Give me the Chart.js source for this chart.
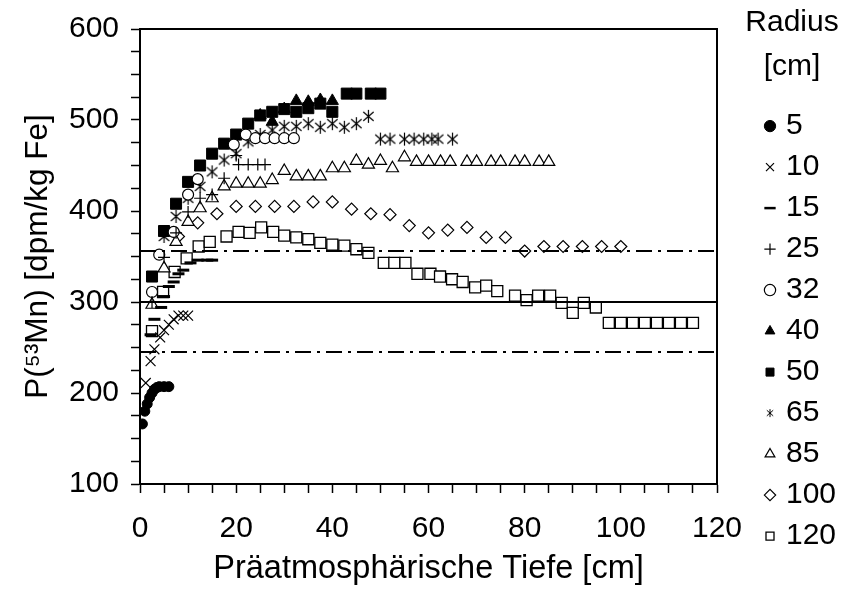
<!DOCTYPE html>
<html>
<head>
<meta charset="utf-8">
<script src="https://cdn.jsdelivr.net/npm/chart.js@4.4.0/dist/chart.umd.min.js"></script>
<style>
  html, body { margin: 0; padding: 0; background: #fff; }
</style>
</head>
<body>
<canvas id="myChart" width="845" height="589"></canvas>
<script>
// legend labels (radius in cm)
var radii = ['5', '10', '15', '25', '32', '40', '50', '65', '85', '100', '120'];

// [depth cm, P(53Mn) dpm/kg Fe]
var r5 = [[0.5,166],[1,180],[1.5,188],[2,195],[2.5,200],[3,204],[3.5,206],[4,207],[5,207],[6,207]];
var r10 = [[1.2,211],[2.2,235],[3,248],[4.2,261],[5,269],[6,275],[7,281],[8,285],[9,285],[10,285]];
var r15 = [[2.2,264],[3,281],[4.4,294],[5,306],[6,317],[7,322],[8,331],[9,335],[10.5,343],[12,346],[14,346],[15,346]];
var r25 = [[2.5,300],[5,349],[7.5,376],[10,399],[12.5,414],[15,418],[17.5,436],[20,461],[20.5,451],[22.5,451],[24.5,451],[26,451]];
var r32 = [[2.5,311],[4,352],[7,377],[10,418],[12,435],[19.5,473],[22,484],[24,480],[26,480],[28,480],[30,480],[32,480]];
var r40 = [[25,505],[27.5,498],[30,512],[32.5,521],[35,520],[37.5,522],[40,521]];
var r50 = [[2.5,328],[5,378],[7.5,408],[10,432],[12.5,450],[15,463],[17.5,474],[20,484],[22.5,496],[25,505],[27.5,509],[30,512],[32.5,509],[35,513],[37.5,518],[40,509],[43,529],[45,529],[48,529],[50,529]];
var r65 = [[5,372],[7.5,394],[10,414],[12.5,427],[15,443],[17.5,456],[20,463],[22.5,476],[25,484],[27.5,489],[30,493],[32.5,493],[35,496],[37.5,492],[40,496],[42.5,492],[45,496],[47.5,504],[50,479],[52,479],[55,479],[57,479],[59,479],[60.7,479],[62,479],[65,479]];
var r85 = [[2.5,297],[5,337],[7.5,366],[10,388],[12.5,403],[15,414],[17.5,427],[20,430],[22.5,430],[25,430],[27.5,434],[30,444],[32.5,438],[35,438],[37.5,438],[40,447],[42.5,447],[45,455],[47.5,451],[50,455],[52.5,447],[55,459],[57.5,454],[60,454],[62.5,454],[64.5,454],[68,454],[70,454],[73,454],[75,454],[78,454],[80,454],[83,454],[85,454]];
var r100 = [[8,372],[12,387],[16,397],[20,405],[24,405],[28,405],[32,405],[36,410],[40,410],[44,402],[48,397],[52,396],[56,384],[60,376],[64,379],[68,382],[72,371],[76,371],[80,356],[84,361],[88,361],[92,361],[96,361],[100,361]];
var r120 = [[2.5,268],[4.8,311],[7.2,333],[9.7,348],[12.2,361],[14.5,366],[18,372],[20.5,377],[22.8,376],[25.2,382],[27.7,377],[30,373],[32.5,371],[35,369],[37.5,365],[40,363],[42.5,362],[45,358],[47.5,354],[50.7,343],[52.9,343],[55.2,343],[57.7,331],[60.4,331],[62.4,328],[64.9,325],[67.1,322],[69.7,316],[72,318],[74.3,312],[78,307],[80.4,302],[82.8,307],[85.3,307],[87.7,299],[90,288],[92.3,299],[94.8,294],[97.5,277],[100,277],[102.5,277],[105,277],[107.5,277],[110,277],[112.5,277],[115,277]];

// mean and band lines
var meanValue = 300;
var bandLow = 245;
var bandHigh = 356;
var xRange = [0, 120];

var font = "'Liberation Sans', Arial, sans-serif";
var tickSize = 30;
var legendSize = 30;

function asterisk(size, lw) {
    var c = document.createElement('canvas');
    c.width = size; c.height = size;
    var g = c.getContext('2d');
    var m = size / 2, r = size / 2 - 1;
    g.strokeStyle = '#000';
    g.lineWidth = lw;
    g.beginPath();
    g.moveTo(m, m - r); g.lineTo(m, m + r);
    g.moveTo(m - r * 0.8, m - r * 0.7); g.lineTo(m + r * 0.8, m + r * 0.7);
    g.moveTo(m + r * 0.8, m - r * 0.7); g.lineTo(m - r * 0.8, m + r * 0.7);
    g.stroke();
    return c;
}
var starBig = asterisk(15, 1.2);
var starSmall = asterisk(10, 1);

function pts(arr) {
    return arr.map(function (p) { return {x: p[0], y: p[1]}; });
}

// style per series: [data, pointStyle, radius, filled, borderWidth, legendStyle]
var series = [
    [r5, 'circle', 5, true, 1, 'circle'],
    [r10, 'crossRot', 7, false, 1.2, 'crossRot'],
    [r15, 'line', 6, false, 3, 'line'],
    [r25, 'cross', 6, false, 1.2, 'cross'],
    [r32, 'circle', 5.5, false, 1.2, 'circle'],
    [r40, 'triangle', 7, true, 1, 'triangle'],
    [r50, 'rect', 7.8, true, 1, 'rect'],
    [r65, starBig, 7, false, 1.2, starSmall],
    [r85, 'triangle', 7, false, 1.2, 'triangle'],
    [r100, 'rectRot', 6, false, 1.2, 'rectRot'],
    [r120, 'rect', 7.8, false, 1.3, 'rect']
];

var datasets = [];
function refLine(v, dash) {
    return {
        type: 'line',
        label: '',
        data: [{x: xRange[0], y: v}, {x: xRange[1], y: v}],
        borderColor: '#000',
        borderWidth: 2,
        borderDash: dash,
        pointRadius: 0,
        fill: false
    };
}
datasets.push(refLine(meanValue, []));
datasets.push(refLine(bandHigh, [16, 6, 3, 6]));
datasets.push(refLine(bandLow, [16, 6, 3, 6]));

series.forEach(function (s, i) {
    datasets.push({
        label: radii[i],
        data: pts(s[0]),
        showLine: false,
        pointStyle: s[1],
        pointRadius: s[2],
        pointHoverRadius: s[2],
        pointBackgroundColor: s[3] ? '#000' : '#fff',
        pointBorderColor: '#000',
        pointBorderWidth: s[4],
        legendStyle: s[5]
    });
});

var framePlugin = {
    id: 'frame',
    afterInit: function (chart) {
        var lg = chart.legend;
        var orig = lg.fit;
        lg.fit = function () {
            orig.call(this);
            this.width = 128;
        };
        // no clipping, the title is wider than the label column
        lg.draw = function () {
            if (this.options.display) this._draw();
        };
    },
    afterLayout: function (chart) {
        var lg = chart.legend;
        lg.left = chart.chartArea.right + 41;
        lg.right = 826;
        lg.width = lg.right - lg.left;
    },
    afterDatasetsDraw: function (chart) {
        var a = chart.chartArea, ctx = chart.ctx;
        ctx.save();
        ctx.strokeStyle = '#000';
        ctx.lineWidth = 2;
        ctx.strokeRect(a.left, a.top, a.right - a.left, a.bottom - a.top);
        ctx.restore();
    }
};

var ctx = document.getElementById('myChart').getContext('2d');
var chart = new Chart(ctx, {
    type: 'scatter',
    data: { datasets: datasets },
    options: {
        responsive: false,
        animation: false,
        devicePixelRatio: 1,
        layout: { padding: 0 },
        plugins: {
            tooltip: { enabled: false },
            legend: {
                position: 'right',
                align: 'start',
                title: {
                    display: true,
                    text: ['Radius', '[cm]'],
                    color: '#000',
                    font: { family: font, size: legendSize, lineHeight: 1.47 },
                    padding: { top: 8, bottom: 48 }
                },
                labels: {
                    color: '#000',
                    font: { family: font, size: legendSize },
                    usePointStyle: true,
                    boxWidth: 2,
                    boxHeight: 8,
                    padding: 11,
                    filter: function (item) { return item.text !== ''; },
                    generateLabels: function (chart) {
                        var items = Chart.defaults.plugins.legend.labels.generateLabels(chart);
                        items.forEach(function (it) {
                            var ds = chart.data.datasets[it.datasetIndex];
                            if (ds.legendStyle) it.pointStyle = ds.legendStyle;
                            if (ds.pointBorderWidth) it.lineWidth = Math.min(ds.pointBorderWidth, 2.5);
                        });
                        return items;
                    }
                }
            }
        },
        scales: {
            x: {
                type: 'linear',
                min: 0,
                max: 120,
                afterFit: function (scale) { scale.height = 105; },
                ticks: {
                    stepSize: 5,
                    autoSkip: false,
                    maxRotation: 0,
                    padding: 18,
                    color: '#000',
                    font: { family: font, size: tickSize },
                    callback: function (v) { return v % 20 === 0 ? v : ''; }
                },
                grid: { drawOnChartArea: false, tickLength: 9, color: '#000', tickWidth: 1.5 },
                border: { display: true, color: '#000', width: 2 },
                title: {
                    display: true,
                    text: 'Präatmosphärische Tiefe [cm]',
                    color: '#000',
                    font: { family: font, size: 32.5 },
                    padding: { top: 0, bottom: 0 }
                }
            },
            y: {
                type: 'linear',
                min: 100,
                max: 600,
                afterFit: function (scale) { scale.width = 140; scale.paddingTop = 29; },
                ticks: {
                    stepSize: 25,
                    autoSkip: false,
                    padding: 12,
                    color: '#000',
                    font: { family: font, size: tickSize },
                    callback: function (v) { return v % 100 === 0 ? v : ''; }
                },
                grid: { drawOnChartArea: false, tickLength: 9, color: '#000', tickWidth: 1.5 },
                border: { display: true, color: '#000', width: 2 },
                title: {
                    display: true,
                    text: 'P(⁵³Mn) [dpm/kg Fe]',
                    color: '#000',
                    font: { family: font, size: 31.5 },
                    padding: { top: 19 }
                }
            }
        }
    },
    plugins: [framePlugin]
});
</script>
</body>
</html>
